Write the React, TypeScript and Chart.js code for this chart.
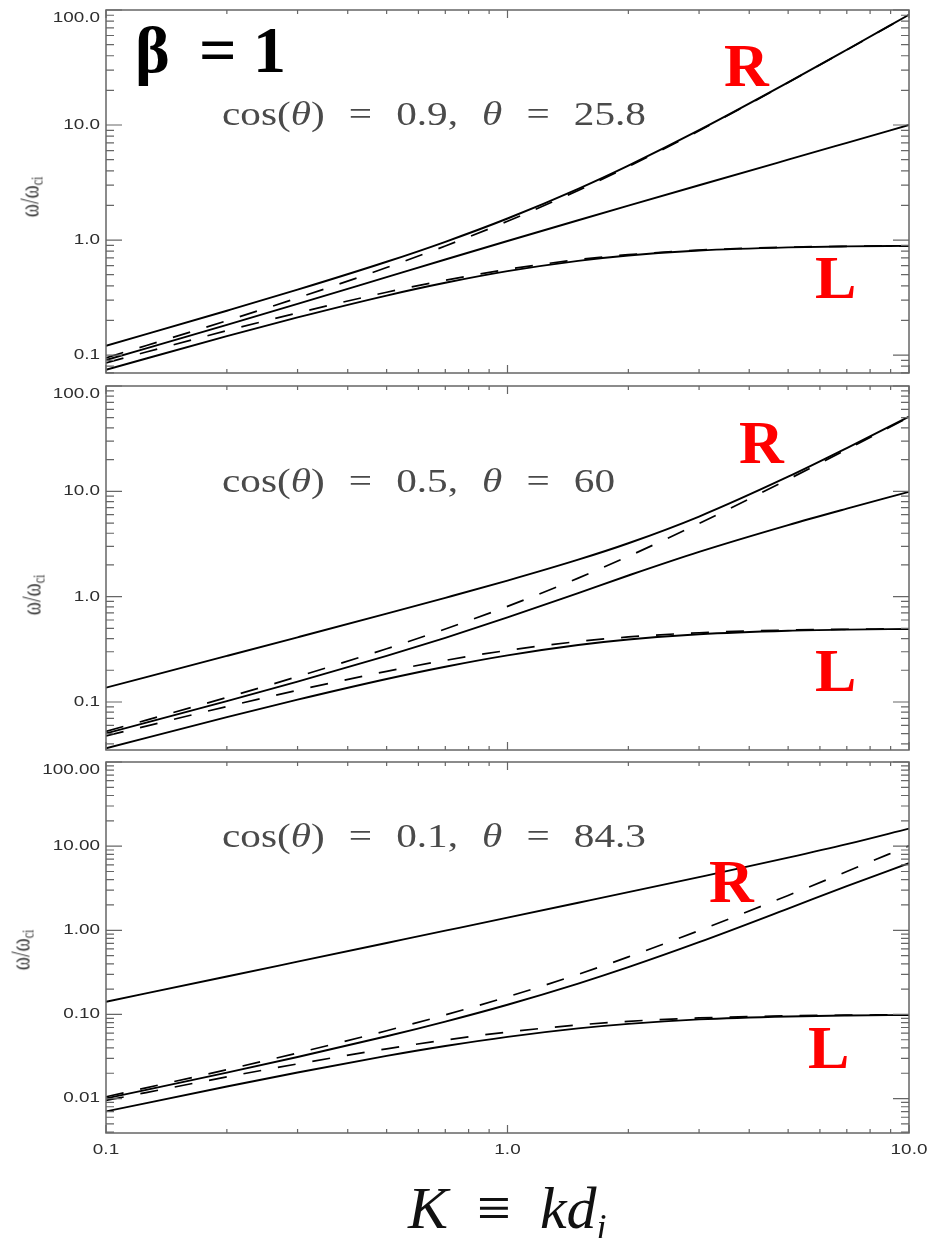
import React, { useEffect, useRef } from 'react';
import { Chart, registerables } from 'chart.js';

Chart.register(...registerables);

// ---------------- data ----------------
// normalised wavenumber K = k d_i
const K_VALUES = [0.1, 0.2, 0.3, 0.5, 0.7, 1, 1.5, 2, 3, 5, 7, 10];

// cos(theta) = 0.9
const A_FAST = [0.1202, 0.2428, 0.37, 0.647, 0.9654, 1.539, 2.789, 4.439, 9.016, 23.47, 45.09, 91.0];
const A_MID = [0.0904, 0.183, 0.2784, 0.4758, 0.6774, 0.9813, 1.486, 1.989, 2.993, 4.996, 6.997, 9.998];
const A_SLOW = [0.0745, 0.1459, 0.2123, 0.3289, 0.4248, 0.5362, 0.6593, 0.7338, 0.8106, 0.8636, 0.8807, 0.8904];
const A_R_DASH = [0.0946, 0.1989, 0.3135, 0.5763, 0.888, 1.456, 2.7, 4.346, 8.917, 23.37, 44.98, 90.89];
const A_L_DASH = [0.0856, 0.1629, 0.2325, 0.3513, 0.447, 0.5562, 0.675, 0.7456, 0.8175, 0.8666, 0.8823, 0.8912];

// cos(theta) = 0.5
const B_FAST = [0.1367, 0.2736, 0.4112, 0.6897, 0.9748, 1.421, 2.244, 3.213, 5.764, 13.76, 25.76, 51.25];
const B_MID = [0.0503, 0.1019, 0.156, 0.2741, 0.4069, 0.6347, 1.082, 1.588, 2.661, 4.779, 6.841, 9.888];
const B_SLOW = [0.0364, 0.0717, 0.1052, 0.1653, 0.2162, 0.2771, 0.3475, 0.392, 0.4398, 0.4751, 0.4867, 0.4933];
const B_R_DASH = [0.0526, 0.1105, 0.1742, 0.3202, 0.4933, 0.809, 1.5, 2.414, 4.954, 12.98, 24.99, 50.5];
const B_L_DASH = [0.0476, 0.0905, 0.1292, 0.1952, 0.2483, 0.309, 0.375, 0.4142, 0.4542, 0.4815, 0.4902, 0.4951];

// cos(theta) = 0.1
const C_FAST = [0.1413, 0.2825, 0.4238, 0.7065, 0.9893, 1.414, 2.125, 2.839, 4.286, 7.295, 10.55, 16.18];
const C_MID = [0.01005, 0.02038, 0.03123, 0.05505, 0.08231, 0.1305, 0.2327, 0.3645, 0.722, 1.811, 3.348, 6.274];
const C_SLOW = [0.00705, 0.0139, 0.02041, 0.03214, 0.04212, 0.05417, 0.06826, 0.07731, 0.08726, 0.0946, 0.09712, 0.09854];
const C_R_DASH = [0.01051, 0.0221, 0.03484, 0.06404, 0.09866, 0.1618, 0.3, 0.4828, 0.9908, 2.596, 4.998, 10.1];
const C_L_DASH = [0.00951, 0.0181, 0.02584, 0.03904, 0.04966, 0.0618, 0.075, 0.08284, 0.09083, 0.09629, 0.09804, 0.09902];

// tick labels
const X_TICKS = [0.1, 1, 10];
const Y_TICKS_A = [0.1, 1, 10, 100];
const Y_TICKS_B = [0.1, 1, 10, 100];
const Y_TICKS_C = [0.01, 0.1, 1, 10, 100];

const X_MIN = 0.1;
const X_MAX = 10;

// ---------------- layout ----------------
const W = 932;
const PLOT_LEFT = 106;
const PLOT_RIGHT = 909;
const STRETCH = 1.35;

type PanelLayout = {
  top: number;
  height: number;
  padTop: number;
  padBottom: number;
  yMin: number;
  yMax: number;
  yTicks: number[];
  yDecimals: number;
  xLabels: boolean;
  series: { solid: number[][]; dashed: number[][] };
};

const PANELS: PanelLayout[] = [
  {
    top: 0, height: 380, padTop: 10, padBottom: 7,
    yMin: 0.0698, yMax: 100, yTicks: Y_TICKS_A, yDecimals: 1, xLabels: false,
    series: { solid: [A_FAST, A_MID, A_SLOW], dashed: [A_R_DASH, A_L_DASH] },
  },
  {
    top: 380, height: 376, padTop: 6, padBottom: 6,
    yMin: 0.035, yMax: 100, yTicks: Y_TICKS_B, yDecimals: 1, xLabels: false,
    series: { solid: [B_FAST, B_MID, B_SLOW], dashed: [B_R_DASH, B_L_DASH] },
  },
  {
    top: 756, height: 482, padTop: 6, padBottom: 105,
    yMin: 0.0039, yMax: 100, yTicks: Y_TICKS_C, yDecimals: 2, xLabels: true,
    series: { solid: [C_FAST, C_MID, C_SLOW], dashed: [C_R_DASH, C_L_DASH] },
  },
];

function drawStretched(ctx: CanvasRenderingContext2D, text: string, x: number, y: number, align: CanvasTextAlign) {
  ctx.save();
  ctx.translate(x, y);
  ctx.scale(STRETCH, 1);
  ctx.textAlign = align;
  ctx.fillText(text, 0, 0);
  ctx.restore();
}

function makeFramePlugin(p: PanelLayout) {
  return {
    id: 'idlFrame',
    afterDatasetsDraw(chart: any) {
      const ctx: CanvasRenderingContext2D = chart.ctx;
      const { left, right, top, bottom } = chart.chartArea;
      const xs = chart.scales.x;
      const ys = chart.scales.y;
      ctx.save();
      ctx.strokeStyle = '#666';
      ctx.lineWidth = 1.5;
      ctx.strokeRect(left, top, right - left, bottom - top);

      ctx.lineWidth = 1.2;
      ctx.beginPath();
      for (let e = -1; e <= 1; e++) {
        for (let m = 1; m <= 9; m++) {
          const v = m * Math.pow(10, e);
          if (v < X_MIN * 0.999 || v > X_MAX * 1.001) continue;
          const px = xs.getPixelForValue(v);
          const len = m === 1 ? 8 : 4;
          ctx.moveTo(px, bottom);
          ctx.lineTo(px, bottom - len);
          ctx.moveTo(px, top);
          ctx.lineTo(px, top + len);
        }
      }
      const eMin = Math.floor(Math.log10(p.yMin));
      const eMax = Math.ceil(Math.log10(p.yMax));
      for (let e = eMin; e <= eMax; e++) {
        for (let m = 1; m <= 9; m++) {
          const v = m * Math.pow(10, e);
          if (v < p.yMin * 0.999 || v > p.yMax * 1.001) continue;
          const py = ys.getPixelForValue(v);
          const len = m === 1 ? 16 : 8;
          ctx.moveTo(left, py);
          ctx.lineTo(left + len, py);
          ctx.moveTo(right, py);
          ctx.lineTo(right - len, py);
        }
      }
      ctx.stroke();

      ctx.fillStyle = '#2e2e2e';
      ctx.font = '14px "Liberation Sans", Arial, sans-serif';
      ctx.textBaseline = 'middle';
      for (const v of p.yTicks) {
        let py = ys.getPixelForValue(v);
        if (py < top + 8) py = top + 8;
        drawStretched(ctx, v.toFixed(p.yDecimals), left - 6, py, 'right');
      }
      if (p.xLabels) {
        for (const v of X_TICKS) {
          const px = xs.getPixelForValue(v);
          drawStretched(ctx, v.toFixed(1), px, bottom + 17, 'center');
        }
      }
      ctx.restore();
    },
  };
}

function toPoints(arr: number[]) {
  return K_VALUES.map((k, i) => ({ x: k, y: arr[i] }));
}

function Panel({ p }: { p: PanelLayout }) {
  const ref = useRef<HTMLCanvasElement>(null);
  useEffect(() => {
    const canvas = ref.current;
    if (!canvas) return;
    const datasets: any[] = [];
    p.series.solid.forEach((s) =>
      datasets.push({
        data: toPoints(s),
        borderColor: '#000',
        borderWidth: 1.9,
        pointRadius: 0,
        fill: false,
        cubicInterpolationMode: 'monotone',
      })
    );
    p.series.dashed.forEach((s) =>
      datasets.push({
        data: toPoints(s),
        borderColor: '#000',
        borderWidth: 1.7,
        borderDash: [18, 17],
        pointRadius: 0,
        fill: false,
        cubicInterpolationMode: 'monotone',
      })
    );
    const chart = new Chart(canvas, {
      type: 'line',
      data: { datasets },
      options: {
        animation: false,
        responsive: false,
        maintainAspectRatio: false,
        devicePixelRatio: 1,
        events: [],
        layout: {
          padding: { left: PLOT_LEFT, right: W - PLOT_RIGHT, top: p.padTop, bottom: p.padBottom },
        },
        plugins: { legend: { display: false }, tooltip: { enabled: false }, title: { display: false } },
        scales: {
          x: { type: 'logarithmic', min: X_MIN, max: X_MAX, display: false },
          y: { type: 'logarithmic', min: p.yMin, max: p.yMax, display: false },
        },
      },
      plugins: [makeFramePlugin(p)],
    } as any);
    return () => chart.destroy();
  }, [p]);
  return (
    <canvas
      ref={ref}
      width={W}
      height={p.height}
      style={{ position: 'absolute', left: 0, top: p.top, width: W, height: p.height }}
    />
  );
}

const serif = '"Liberation Serif", "Times New Roman", serif';

function baselineTop(baseline: number, size: number) {
  return baseline - 0.84 * size;
}

const redLetter = (text: string, left: number, baseline: number) => (
  <div
    key={text + left + baseline}
    style={{
      position: 'absolute',
      left,
      top: baselineTop(baseline, 62),
      font: `bold 62px ${serif}`,
      lineHeight: '62px',
      color: '#ff0000',
    }}
  >
    {text}
  </div>
);

const cosText = (c: string, th: string, baseline: number) => (
  <div
    key={c}
    style={{
      position: 'absolute',
      left: 222,
      top: baselineTop(baseline, 33),
      font: `33px ${serif}`,
      lineHeight: '33px',
      color: '#4a4a4a',
      whiteSpace: 'pre',
      wordSpacing: '11px',
      transform: 'scaleX(1.25)',
      transformOrigin: '0 0',
    }}
  >
    cos(<i>θ</i>) = {c}, <i>θ</i> = {th}
  </div>
);

const yTitle = (cx: number, cy: number, key: string) => (
  <div
    key={key}
    style={{
      position: 'absolute',
      left: cx,
      top: cy,
      font: `20px ${serif}`,
      lineHeight: '20px',
      color: '#333',
      whiteSpace: 'nowrap',
      transform: `translate(-50%, -50%) scaleX(${STRETCH}) rotate(-90deg)`,
    }}
  >
    ω/ω<span style={{ fontSize: '0.6em', verticalAlign: '-0.2em' }}>ci</span>
  </div>
);

export default function App() {
  return (
    <div
      style={{
        position: 'absolute',
        left: 0,
        top: 0,
        width: W,
        height: 1238,
        background: '#fff',
        overflow: 'hidden',
      }}
    >
      {PANELS.map((p, i) => (
        <Panel key={i} p={p} />
      ))}

      <div
        style={{
          position: 'absolute',
          left: 135,
          top: baselineTop(72, 66),
          font: `bold 66px ${serif}`,
          lineHeight: '66px',
          color: '#000',
          whiteSpace: 'pre',
        }}
      >
        β
      </div>
      <div
        style={{
          position: 'absolute',
          left: 199,
          top: baselineTop(72, 66),
          font: `bold 66px ${serif}`,
          lineHeight: '66px',
          color: '#000',
          whiteSpace: 'pre',
        }}
      >
        = 1
      </div>

      {cosText('0.9', '25.8', 126)}
      {cosText('0.5', '60', 493)}
      {cosText('0.1', '84.3', 848)}

      {redLetter('R', 724, 86)}
      {redLetter('L', 815, 298)}
      {redLetter('R', 739, 463)}
      {redLetter('L', 815, 691)}
      {redLetter('R', 709, 902)}
      {redLetter('L', 808, 1068)}

      {yTitle(33, 197, 'ya')}
      {yTitle(35, 595, 'yb')}
      {yTitle(24, 950, 'yc')}

      <div
        style={{
          position: 'absolute',
          left: 408,
          top: baselineTop(1228, 60),
          font: `italic 60px ${serif}`,
          lineHeight: '60px',
          color: '#111',
          whiteSpace: 'pre',
          wordSpacing: '14px',
        }}
      >
        K <span style={{ fontStyle: 'normal' }}>≡</span> kd
        <span style={{ fontSize: '0.6em', verticalAlign: '-0.3em' }}>i</span>
      </div>
    </div>
  );
}
